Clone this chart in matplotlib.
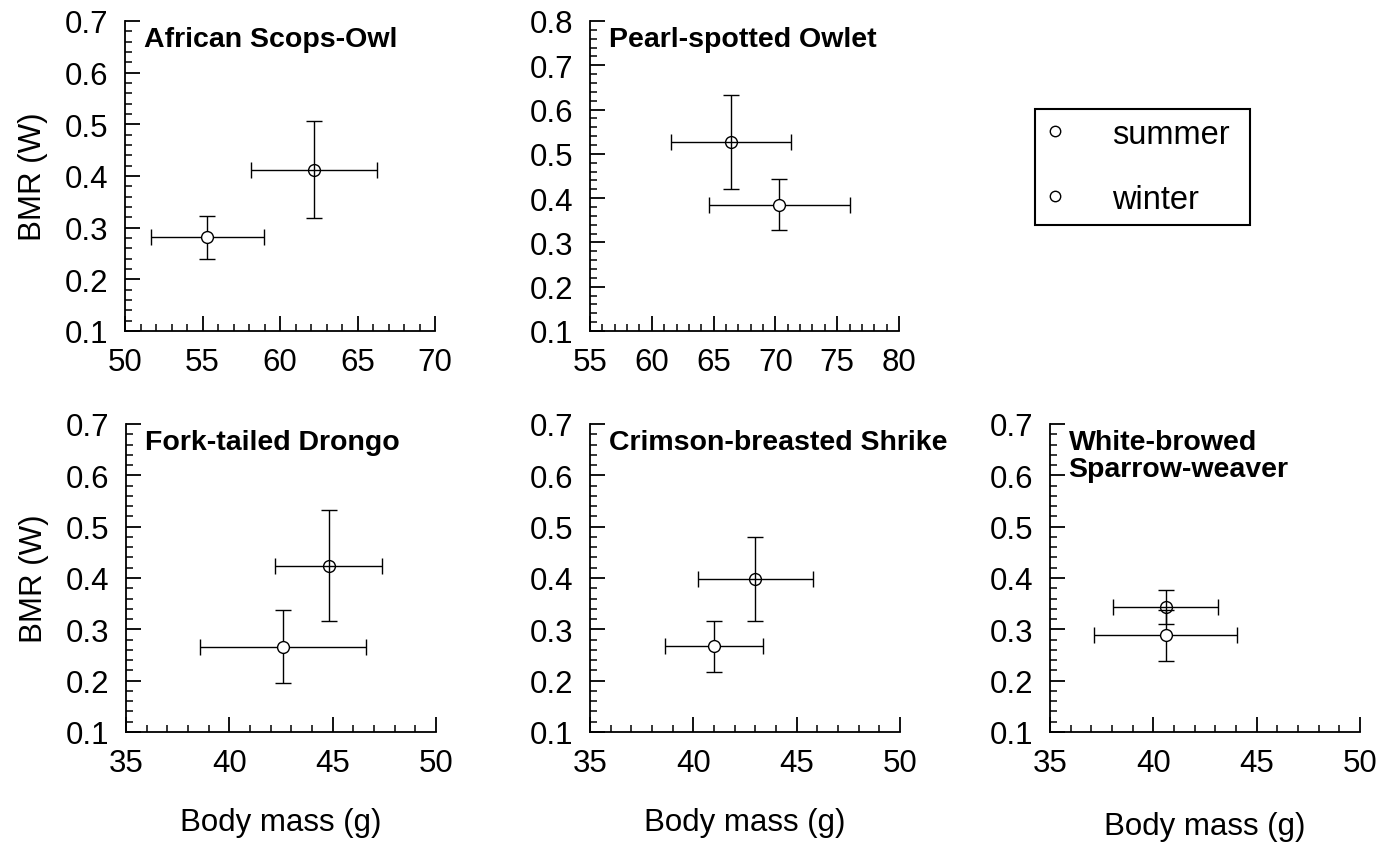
import matplotlib
matplotlib.use('Agg')
import matplotlib.pyplot as plt
from matplotlib.ticker import MultipleLocator, FormatStrFormatter
from matplotlib.lines import Line2D

plt.rcParams['font.family'] = ['Liberation Sans', 'DejaVu Sans']

species = ["African Scops-Owl", "Pearl-spotted Owlet", "Fork-tailed Drongo",
           "Crimson-breasted Shrike", "White-browed\nSparrow-weaver"]

summer_mass = [55.3, 70.3, 42.6, 41.0, 40.6]
summer_mass_sd = [3.65, 5.7, 4.0, 2.35, 3.45]
summer_bmr = [0.281, 0.385, 0.266, 0.267, 0.288]
summer_bmr_sd = [0.042, 0.058, 0.071, 0.050, 0.050]

winter_mass = [62.2, 66.4, 44.8, 43.0, 40.6]
winter_mass_sd = [4.07, 4.83, 2.6, 2.77, 2.54]
winter_bmr = [0.412, 0.527, 0.424, 0.398, 0.344]
winter_bmr_sd = [0.094, 0.107, 0.108, 0.081, 0.033]

xlims = [(50, 70), (55, 80), (35, 50), (35, 50), (35, 50)]
ylims = [(0.1, 0.7), (0.1, 0.8), (0.1, 0.7), (0.1, 0.7), (0.1, 0.7)]

W, H = 1382, 845
fig = plt.figure(figsize=(W / 100, H / 100), dpi=100)

# axes boxes in pixels: left, top, right, bottom
boxes = [(125, 22, 435, 332), (590, 22, 899, 332),
         (126, 425, 436, 733), (590, 425, 900, 733), (1050, 425, 1360, 733)]
xlabel_pads = [None, None, 21, 21, 24]

TICK_FS = 22.5
for i, (l, t, r, b) in enumerate(boxes):
    ax = fig.add_axes([l / W, 1 - b / H, (r - l) / W, (b - t) / H])
    ax.errorbar(winter_mass[i], winter_bmr[i], xerr=winter_mass_sd[i], yerr=winter_bmr_sd[i],
                fmt='o', mfc='none', mec='black', mew=1.0, ms=8.5, ecolor='black',
                elinewidth=1.0, capsize=5.5, capthick=1.0, zorder=3)
    ax.errorbar(summer_mass[i], summer_bmr[i], xerr=summer_mass_sd[i], yerr=summer_bmr_sd[i],
                fmt='o', mfc='white', mec='black', mew=1.0, ms=8.5, ecolor='black',
                elinewidth=1.0, capsize=5.5, capthick=1.0, zorder=3)
    ax.set_xlim(*xlims[i])
    ax.set_ylim(*ylims[i])
    ax.xaxis.set_major_locator(MultipleLocator(5))
    ax.xaxis.set_minor_locator(MultipleLocator(1))
    ax.yaxis.set_major_locator(MultipleLocator(0.1))
    ax.yaxis.set_minor_locator(MultipleLocator(0.02))
    ax.yaxis.set_major_formatter(FormatStrFormatter('%.1f'))
    for s in ['top', 'right']:
        ax.spines[s].set_visible(False)
    for s in ['left', 'bottom']:
        ax.spines[s].set_linewidth(1.3)
    ax.tick_params(which='major', direction='in', length=11, width=1.3,
                   labelsize=TICK_FS)
    ax.tick_params(which='minor', direction='in', length=5, width=1.1)
    ax.tick_params(axis='x', which='major', pad=11.5)
    ax.tick_params(axis='y', which='major', pad=12)
    ax.text(0.06, 0.985, species[i], transform=ax.transAxes, ha='left', va='top',
            fontsize=20.5, fontweight='bold', linespacing=1.05)
    if i in (0, 2):
        ax.set_ylabel('BMR (W)', fontsize=TICK_FS, labelpad=12)
    if xlabel_pads[i] is not None:
        ax.set_xlabel('Body mass (g)', fontsize=TICK_FS, labelpad=xlabel_pads[i])

handles = [Line2D([], [], marker='o', ls='none', mfc='white', mec='black', mew=1.0, ms=7.5),
           Line2D([], [], marker='o', ls='none', mfc='white', mec='black', mew=1.0, ms=7.5)]
leg = fig.legend(handles, ['summer', 'winter'], loc='upper left', mode='expand',
                 bbox_to_anchor=(1035 / W, 1 - 225 / H, 215 / W, 115 / H),
                 bbox_transform=fig.transFigure,
                 borderaxespad=0, fontsize=23.5, frameon=True, fancybox=False,
                 edgecolor='black', handlelength=0.63, handletextpad=1.43,
                 labelspacing=1.04, borderpad=0.3)
leg.get_frame().set_linewidth(1.5)
leg.get_frame().set_alpha(1)

fig.savefig('out.png', dpi=100)
